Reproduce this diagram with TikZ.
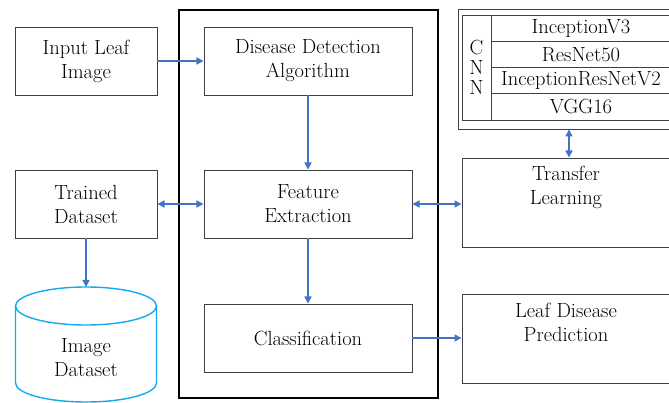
\documentclass[tikz,border=0pt]{standalone}
\usetikzlibrary{arrows.meta, positioning, calc}
\definecolor{boxcolor}{RGB}{64,64,64}
\definecolor{arrowcolor}{RGB}{68,114,196}
\definecolor{dbcolor}{RGB}{20,170,240}

\begin{document}
\begin{tikzpicture}[
    x=0.03cm, y=-0.03cm,
    txt/.style={align=center, inner sep=0pt, font=\fontsize{17.5}{20.5}\selectfont},
    block/.style={txt, draw=boxcolor, line width=0.8pt, minimum width=#1, minimum height=2.04cm},
    outbox/.style={draw=boxcolor, line width=0.8pt, minimum width=6.27cm, minimum height=2.67cm, inner sep=0pt},
    cnnrow/.style={txt, draw=boxcolor, line width=0.8pt, minimum width=5.4cm, minimum height=0.7875cm},
    arr/.style={draw=arrowcolor, line width=1.2pt, -{Triangle[length=6pt, width=6pt]}},
    biarr/.style={draw=arrowcolor, line width=1.2pt, {Triangle[length=6pt, width=6pt]}-{Triangle[length=6pt, width=6pt]}}
]
    \clip (0,0) rectangle (669,403);

    % Left column
    \node[block=4.26cm] (input) at (86,61) {Input Leaf\\Image};
    \node[block=4.26cm] (trained) at (86,204) {Trained\\Dataset};

    % Image dataset cylinder
    \draw[dbcolor, line width=1.2pt] (86,306) ellipse [x radius=2.115cm, y radius=0.57cm];
    \draw[dbcolor, line width=1.2pt] (15.5,306) -- (15.5,383) arc (180:360:2.115cm and 0.57cm) -- (156.5,306);
    \coordinate (dbtop) at (86,287);
    \node[txt] (imgdata) at (86,358) {Image\\Dataset};

    % Main frame
    \node[draw=black, line width=1.6pt, minimum width=7.77cm, minimum height=11.64cm, inner sep=0pt] (frame) at (308.5,204) {};
    \node[block=6.24cm] (detect) at (308,61) {Disease Detection\\Algorithm};
    \node[block=6.24cm] (feature) at (308,204) {Feature\\Extraction};
    \node[block=6.24cm] (classify) at (308,338) {Classification};

    % CNN models
    \node[draw=boxcolor, line width=0.8pt, minimum width=6.39cm, minimum height=3.6cm, inner sep=0pt] (cnn) at (564.5,69) {};
    \node[txt, draw=boxcolor, line width=0.8pt, minimum width=0.87cm, minimum height=3.15cm, font=\fontsize{17.5}{17}\selectfont] (cnnlabel) at (476.5,67.5) {C\\N\\N};
    \node[cnnrow] (incv3) at (581,28.1) {InceptionV3};
    \node[cnnrow] (resnet) at (581,54.4) {ResNet50};
    \node[cnnrow] (incres) at (581,80.6) {InceptionResNetV2};
    \node[cnnrow] (vgg) at (581,106.9) {VGG16};

    % Right column
    \node[outbox] (transfer) at (566.5,202.5) {};
    \node[txt] (transfertext) at (566,187) {Transfer\\Learning};
    \node[outbox] (predict) at (566.5,338.5) {};
    \node[txt] (predicttext) at (566,322) {Leaf Disease\\Prediction};

    % Connections
    \draw[arr] (input) -- (detect);
    \draw[arr] (detect) -- (feature);
    \draw[biarr] (trained) -- (feature);
    \draw[biarr] (feature) -- (feature -| transfer.west);
    \draw[arr] (feature) -- (classify);
    \draw[arr] (classify) -- (classify -| predict.west);
    \draw[arr] (trained) -- (dbtop);
    \draw[biarr] ([xshift=0.135cm]cnn.south) -- ([xshift=0.135cm]cnn.south |- transfer.north);
\end{tikzpicture}
\end{document}
